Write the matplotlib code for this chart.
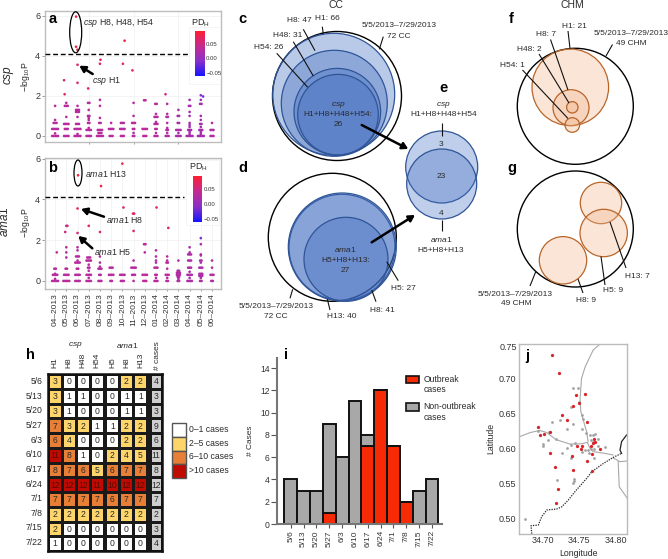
import numpy as np
import matplotlib
matplotlib.use("Agg")
import matplotlib.pyplot as plt
from matplotlib.patches import Circle, Ellipse, Rectangle
from matplotlib.colors import LinearSegmentedColormap, Normalize, ListedColormap, BoundaryNorm, to_rgba
from matplotlib.cm import ScalarMappable
from collections import Counter

plt.rcParams['font.family'] = ['Liberation Sans', 'DejaVu Sans']
plt.rcParams['mathtext.fontset'] = 'custom'
plt.rcParams['mathtext.rm'] = 'Liberation Sans'
plt.rcParams['mathtext.it'] = 'Liberation Sans:italic'
plt.rcParams['mathtext.bf'] = 'Liberation Sans:bold'

# ---------- data ----------
months = ['04–2013','05–2013','06–2013','07–2013','08–2013','09–2013','10–2013','11–2013',
          '12–2013','01–2014','02–2014','03–2014','04–2014','05–2014','06–2014']
csp_month_vals = [
 [0]*5+[.13]+[.35]*5+[.65]*3+[.8,1.5],
 [0]*4+[.35]*3+[.6]*4+[.95]+[1.5]*3+[1.65],
 [0]*5+[.1]+[.35]*5+[.6]*3+[.95]+[1.2]*3+[1.3]*3+[1.5],
 [0]*4+[.3]*4+[.4]+[.65]*2+[.8,.9]+[1.0]*2+[1.3]+[1.65]*2,
 [0]*5+[.15]*3+[.3]*4+[.65]*2+[.9,1.5,1.8],
 [0]*3+[.35]*4+[.65],
 [0]*3+[.35]*4+[.65]*3,
 [0]*2+[.15]+[.35]*2+[.65]*3+[1.0,1.65],
 [0]*3+[.35]*4+[1.78]*2,
 [0]*3+[.15]+[.35]*2+[.6]*3+[.7]+[.95]*3+[1.1]+[1.6]*2,
 [0]*3+[.15]+[.3]*2+[.4,.65]+[.95]*2+[1.1,1.6],
 [0]*4+[.15]+[.3]*4+[.65]*2+[1.0]*2+[1.3],
 [0]*5+[.1,.2]+[.3]*3+[.45,.55,.65,1.0,1.2]+[1.5]*2+[1.8],
 [0]*5+[.1,.2]+[.3]*3+[.45]+[.6]*2+[.8,1.0]+[1.6]*2+[1.8],
 [0]*3+[.3]*3+[.65],
]
csp_month_pd = [.03,.03,.03,.03,.03,.03,.03,.03,.035,.03,.025,.02,.015,.015,.025]
csp_high_m  = [1.87,1.87,2.0,2.0,2.0,0.8,0.85,2.95,4.0,4.05,6.2,6.05,6.9,9.85,13.0,13.2]
csp_high_y  = [5.95,4.45,4.3,3.55,2.65,2.78,2.08,2.37,3.6,3.8,4.75,3.6,3.27,2.08,2.03,1.97]
csp_high_pd = [.08,.075,.08,.07,.06,.06,.06,.07,.07,.07,.08,.07,.065,.05,-.01,-.02]

ama_month_vals = [
 [0]*5+[.1]+[.3]*4+[.35]+[.6]*2,
 [0]*5+[.3]*4+[.6]*2+[1.15,1.4,1.65],
 [0]*4+[.3]*4+[.6]*2+[.9]*4+[1.0]+[1.2]*3+[1.5,1.65],
 [0]*4+[.15]+[.3]*4+[.5]+[.65]*2+[.8]+[1.0]*4+[1.15]*3,
 [0]*3+[.3]*2+[.6]*3+[.7,.9,1.2],
 [0]*2+[.3]*4+[.65]*3,
 [0]*3+[.3]*4,
 [0]+[.3]*3+[.65]*4+[1.0],
 [0]*3+[.3]*4+[1.4]+[1.8]*2,
 [0]*3+[.15]+[.3]*2+[.65]*3+[.9,1.0,1.2,1.5],
 [0]*2+[.15]+[.3]*3+[.6]+[.9]*2+[1.0,1.2],
 [0]*2+[.1]+[.2]*2+[.3]*3+[.4]*3+[.5]*2+[1.0],
 [0]*4+[.15]+[.3]*4+[.45]+[.65]*3+[1.0]*3+[1.3]*3+[1.4,1.65],
 [0]*2+[.15]+[.25]*3+[.35]*3+[.65]*3+[.9]+[1.0]*2+[1.25,1.3,1.8],
 [0]*2+[.3]*3+[.65,1.0],
]
ama_month_pd = [.03,.03,.03,.03,.03,.03,.03,.03,.035,.03,.03,.025,.02,.02,.025]
ama_high_m  = [0.15,0.9,1.0,1.1,2.0,2.0,3.0,4.0,4.1,6.0,6.1,6.95,7.05,7.0,2.05,9.05,10.1,13.0]
ama_high_y  = [1.4,2.4,2.7,2.7,2.35,3.55,2.7,2.4,4.65,5.75,3.6,3.3,3.3,2.45,5.18,3.6,2.6,2.1]
ama_high_pd = [.04,.05,.05,.05,.06,.075,.06,.06,.08,.08,.07,.07,.07,.06,.085,.07,.06,-.015]

h_rows = ['5/6','5/13','5/20','5/27','6/3','6/10','6/17','6/24','7/1','7/8','7/15','7/22']
h_csp_cols = ['H1','H8','H48','H54']
h_ama_cols = ['H5','H8','H13']
h_csp = [[3,0,0,0],[3,1,1,0],[3,1,0,0],[7,3,2,1],[6,4,0,0],[11,8,1,0],
         [8,7,6,5],[12,12,12,11],[7,7,7,7],[2,2,2,2],[2,0,0,0],[1,0,0,0]]
h_ama = [[0,2,2],[0,1,1],[0,1,1],[1,2,2],[0,2,2],[2,4,5],
         [6,7,7],[10,12,12],[6,7,7],[2,2,2],[0,0,0],[0,0,0]]
h_cases = [4,3,3,9,6,11,8,12,7,2,3,4]
h_bins = [0,2,6,10,100]
h_colors = ['#FFFFFF','#FDD56A','#E87F36','#BE0A00']
h_legend = ['0–1 cases','2–5 cases','6–10 cases','>10 cases']

i_weeks = h_rows
i_outbreak = [0,0,0,1,0,0,7,12,7,2,0,0]
i_non = [4,3,3,8,6,11,1,0,0,0,3,4]

j_red_lon = [34.713,34.722,34.758,34.746,34.750,34.741,34.726,34.733,34.693,34.760,34.7095,34.702,34.696,
             34.7105,34.747,34.754,34.752,34.7395,34.7655,34.770,34.771,34.769,34.778,34.767,34.760,34.717,
             34.741,34.767,34.721,34.7186]
j_red_lat = [.7337,.708,.6785,.6766,.6647,.6614,.6476,.6414,.6309,.6385,.6242,.6214,.619,.5933,.6042,.6033,
             .599,.59,.6042,.6133,.6095,.6076,.600,.5919,.5823,.5733,.5695,.5685,.5428,.5228]
j_grey_lon = [34.742,34.748,34.738,34.750,34.753,34.7545,34.723,34.712,34.741,34.7336,34.753,34.693,34.7586,
              34.765,34.768,34.772,34.7005,34.7005,34.707,34.718,34.744,34.738,34.733,34.726,34.738,34.7755,
              34.766,34.768,34.775,34.7855,34.7705,34.762,34.753,34.763,34.7705,34.719,34.743,34.743,34.742,
              34.6755,34.7086,34.758,34.766]
j_grey_lat = [.686,.686,.6595,.667,.6485,.643,.6414,.6376,.6347,.6285,.6285,.6247,.6219,.620,.620,.6204,.6066,
              .6033,.6128,.6133,.6076,.6057,.6004,.5933,.5871,.6138,.6123,.610,.6038,.6023,.5995,.598,.5952,
              .5938,.587,.5557,.5562,.5538,.5505,.500,.6233,.598,.5995]
road_ew_lon = [34.668,34.683,34.696,34.7055,34.718,34.737,34.753,34.761,34.7645,34.769,34.785,34.796]
road_ew_lat = [.617,.623,.626,.623,.613,.6066,.607,.609,.6004,.5957,.5933,.591]
road_n_lon = [34.778,34.769,34.758,34.753,34.751,34.752,34.760,34.762]
road_n_lat = [.749,.741,.717,.7004,.672,.653,.624,.610]
road_e_lon = [34.796,34.8055,34.8155]
road_e_lat = [.587,.5814,.5824]
road_s_lon = [34.803,34.8045,34.8155]
road_s_lat = [.5814,.5457,.529]
border_lon = [34.685,34.684,34.694,34.6986,34.7055,34.719,34.726,34.735,34.744,34.760,34.767,34.783,34.7964,
              34.8077,34.8055,34.8077,34.8145]
border_lat = [.4786,.490,.491,.5029,.5124,.5138,.517,.5267,.5386,.5576,.567,.579,.5876,.5933,.598,.610,.6195]

# ---------- helpers ----------
W, H = 668, 559
fig = plt.figure(figsize=(W/100, H/100), dpi=100)
def pxax(l, t, r, b, **kw):
    return fig.add_axes([l/W, 1-b/H, (r-l)/W, (b-t)/H], **kw)

ov = fig.add_axes([0, 0, 1, 1], zorder=10)
ov.set_xlim(0, W); ov.set_ylim(H, 0); ov.axis('off'); ov.patch.set_alpha(0)
DK = '#2a2a2a'
LET = 10.5
VS = 6.0
def T(x, y, s, size=6, ha='center', va='center', color=DK, **kw):
    ov.text(x, y, s, fontsize=size, ha=ha, va=va, color=color, **kw)
def L(x0, y0, x1, y1, lw=0.8, color='#111111'):
    ov.plot([x0, x1], [y0, y1], color=color, lw=lw, solid_capstyle='butt', zorder=6)
def A(x0, y0, x1, y1):
    ov.annotate('', xy=(x1, y1), xytext=(x0, y0),
                arrowprops=dict(arrowstyle='-|>,head_width=0.2,head_length=0.35', lw=1.8, color='black',
                                shrinkA=0, shrinkB=0), zorder=7)
def C(x, y, r, fc='none', ec='black', lw=0.9, alpha=None):
    face = 'none' if fc == 'none' else to_rgba(fc, alpha)
    ov.add_patch(Circle((x, y), r, facecolor=face, edgecolor=ec, lw=lw, zorder=3))

cmap = LinearSegmentedColormap.from_list('pd', ['#1515FF', '#8A30C8', '#C52A90', '#FF1E30'])
norm = Normalize(-0.06, 0.093)

def manhattan(ax, vals, mpd, hm, hy, hpd):
    xs, ys, cs = [], [], []
    for m, v in enumerate(vals):
        for y, n in Counter(v).items():
            for k in range(n):
                xs.append(m + (k-(n-1)/2)*0.13); ys.append(y); cs.append(mpd[m])
    xs += hm; ys += hy; cs += hpd
    ax.scatter(xs, ys, c=cs, cmap=cmap, norm=norm, s=3.6, lw=0, zorder=3)
    ax.set_xlim(-0.9, 14.8)
    ax.set_yticks([0, 2, 4, 6])
    ax.grid(color='#F0F0F0', lw=0.5)
    ax.set_axisbelow(True)
    for s in ax.spines.values():
        s.set_color('#BDBDBD'); s.set_linewidth(1)
    ax.tick_params(axis='y', labelsize=6.5, length=2, width=0.5, color='#777777', labelcolor='#333333', pad=1.5)

# ---------- a ----------
axa = pxax(45, 11, 221, 142)
manhattan(axa, csp_month_vals, csp_month_pd, csp_high_m, csp_high_y, csp_high_pd)
axa.set_ylim(-0.3, 6.23)
axa.set_xticks([3, 7, 11]); axa.set_xticklabels([])
axa.tick_params(axis='x', length=1.5, width=0.5, color='#777777')
# ---------- b ----------
axb = pxax(45, 157.5, 221, 288.5)
manhattan(axb, ama_month_vals, ama_month_pd, ama_high_m, ama_high_y, ama_high_pd)
axb.set_ylim(-0.37, 6.05)
axb.set_xticks(range(15)); axb.set_xticklabels(months, rotation=90, fontsize=6, color='#333333')
axb.tick_params(axis='x', length=1.5, width=0.5, color='#777777', pad=2)

ov.plot([45, 190], [54.3, 54.3], color='black', lw=1, ls=(0, (3.5, 2)), zorder=2)
ov.plot([45, 184], [197.3, 197.3], color='black', lw=1, ls=(0, (3.5, 2)), zorder=2)
ov.add_patch(Ellipse((75.7, 32.3), 12, 41, fc='none', ec='black', lw=0.9))
ov.add_patch(Ellipse((78, 173), 8, 26, fc='none', ec='black', lw=0.9))
T(53, 19, 'a', LET, fontweight='bold', color='black')
T(53, 167.7, 'b', LET, fontweight='bold', color='black')
T(83.3, 23, r'$\mathit{csp}$ H8, H48, H54', 6.3, ha='left')
T(91.7, 81, r'$\mathit{csp}$ H1', 6.3, ha='left')
T(85, 174, r'$\mathit{ama1}$ H13', 6.3, ha='left')
T(106, 220, r'$\mathit{ama1}$ H8', 6.3, ha='left')
T(94.3, 251.7, r'$\mathit{ama1}$ H5', 6.3, ha='left')
A(92.7, 74, 79.3, 65.7); A(104, 216.7, 81, 209); A(92.3, 248.3, 78.3, 236)
T(9.3, 75, r'$\mathit{csp}$', 8.5, rotation=90)
T(5, 221.7, r'$\mathit{ama1}$', 8.5, rotation=90)
T(25, 77, r'$-\mathrm{log}_{10}\mathrm{P}$', 6.2, rotation=90)
T(25, 223, r'$-\mathrm{log}_{10}\mathrm{P}$', 6.2, rotation=90)

for (rx, ry, rw, rh), (cl, ct, cr, cb), ty in [((189, 27, 31, 57), (195, 31, 204.5, 76), 23.5),
                                              ((186, 160, 33, 65), (193, 176, 202, 222), 167.5)]:
    ov.add_patch(Rectangle((rx, ry), rw, rh, fc='white', ec='#F2F2F2', lw=0.5, zorder=1))
    cax = pxax(cl, ct, cr, cb, zorder=11)
    cb_ = fig.colorbar(ScalarMappable(norm=norm, cmap=cmap), cax=cax)
    cb_.set_ticks([-0.05, 0, 0.05]); cb_.set_ticklabels(['−0.05', '0.00', '0.05'])
    cb_.ax.tick_params(labelsize=4.3, length=0, pad=1.2, labelcolor='#333333')
    cb_.outline.set_visible(False)
    T((cl+cr)/2+1, ty, r'PD$_{\mathrm{H}}$', 6.5)

# ---------- c ----------
BLUE, BE = '#3F6BC0', '#2F5597'
T(335.7, 4.5, 'CC', 7.5)
C(337, 96, 64.5, lw=1)
for x, y, r in [(333.7, 94.3, 61), (334.3, 103.3, 53), (337.3, 111.7, 43.3), (338, 114.7, 40.3)]:
    C(x, y, r, BLUE, BE, 0.9, 0.36)
for x, y, s in [(327.7, 19, 'H1: 66'), (299, 20.7, 'H8: 47'), (287.7, 35.7, 'H48: 31'), (269, 47.7, 'H54: 26'),
                (399.3, 25.7, '5/5/2013–7/29/2013'), (399.3, 36, '72 CC'),
                (338.3, 114.7, 'H1+H8+H48+H54:'), (338.3, 124.3, '26')]:
    T(x, y, s, VS)
T(338.3, 105, r'$\mathit{csp}$', VS)
for seg in [(322.3, 26.7, 323.3, 34.3), (303.3, 29.3, 315, 50.7), (293.3, 41.7, 313.3, 76),
            (276.7, 53.3, 307.7, 87.3), (383.3, 36.7, 379.3, 49.3)]:
    L(*seg)
T(242.7, 19, 'c', LET, fontweight='bold', color='black')
# ---------- d ----------
C(332.3, 237.3, 64, lw=1)
for x, y, r in [(342, 247.3, 53), (342.3, 247, 54), (346, 259.3, 42)]:
    C(x, y, r, BLUE, BE, 0.9, 0.38)
T(242.7, 167.7, 'd', LET, fontweight='bold', color='black')
T(345.7, 250, r'$\mathit{ama1}$', VS)
for x, y, s in [(345.7, 260, 'H5+H8+H13:'), (345.7, 270.7, '27'), (276, 306.7, '5/5/2013–7/29/2013'),
                (276, 316.7, '72 CC'), (342, 316.7, 'H13: 40'), (382.7, 310.7, 'H8: 41'), (403.3, 289, 'H5: 27')]:
    T(x, y, s, VS)
for seg in [(290, 298.3, 292.7, 289.3), (330, 310, 327.3, 299), (376, 301.7, 371.7, 290), (398.3, 280.7, 386.7, 261.7)]:
    L(*seg)
# ---------- e ----------
C(441.7, 167, 36, BLUE, BE, 0.9, 0.33)
C(441.7, 184, 35, BLUE, BE, 0.9, 0.33)
T(443.3, 88.3, 'e', LET, fontweight='bold', color='black')
T(443.3, 105.3, r'$\mathit{csp}$', VS)
T(443.3, 114.7, 'H1+H8+H48+H54', VS)
T(441, 144.3, '3', VS); T(441, 176.7, '23', VS); T(441, 213.3, '4', VS)
T(441.7, 240, r'$\mathit{ama1}$', VS); T(440.7, 250, 'H5+H8+H13', VS)
L(442.3, 123.3, 442.3, 136); L(441.7, 220, 441.7, 230.7)
A(361.7, 125, 408.3, 149); A(371.7, 242.3, 415, 215)
# ---------- f ----------
OR, OE = '#F2B78E', '#B9652A'
T(572, 4.5, 'CHM', 7.5)
C(575.3, 106.3, 58, lw=1)
for x, y, r in [(570.3, 87.3, 38.3), (571, 107.7, 18), (572.3, 107.3, 5.7), (572.3, 125, 7.3)]:
    C(x, y, r, OR, OE, 0.9, 0.35)
T(511, 19, 'f', LET, fontweight='bold', color='black')
for x, y, s in [(574.7, 27, 'H1: 21'), (546, 34.5, 'H8: 7'), (529, 49.5, 'H48: 2'), (512, 65.5, 'H54: 1'),
                (631, 33.5, '5/5/2013–7/29/2013'), (631, 43.5, '49 CHM')]:
    T(x, y, s, VS)
for seg in [(568, 31, 570, 48.5), (550.5, 39.5, 568, 90), (539, 54, 569, 103), (522.5, 70, 568, 118.5), (612.5, 44.5, 606, 56)]:
    L(*seg)
# ---------- g ----------
T(512, 168, 'g', LET, fontweight='bold', color='black')
C(575.3, 229, 58, lw=1)
for x, y, r in [(601, 203, 20.7), (603.7, 233, 23.7), (563, 260.3, 23.7)]:
    C(x, y, r, OR, OE, 0.9, 0.35)
for x, y, s in [(515.5, 294, '5/5/2013–7/29/2013'), (516, 303.5, '49 CHM'), (586.5, 301, 'H8: 9'),
                (613, 290.5, 'H5: 9'), (637, 276, 'H13: 7')]:
    T(x, y, s, VS)
for seg in [(530, 286, 536, 271), (583, 293, 578, 279), (605, 285, 601, 256.5), (626, 268, 610, 222)]:
    L(*seg)

# ---------- h ----------
axh = pxax(47.7, 374.3, 162, 551)
xe1 = np.arange(0, 5); xe2 = np.array([4.1, 5.1, 6.1, 7.1]); xe3 = [7.25, 8.14]
ye = np.arange(0, 13)
hn = BoundaryNorm(h_bins, 4); hc = ListedColormap(h_colors)
axh.pcolormesh(xe1, ye, np.array(h_csp), cmap=hc, norm=hn, edgecolors='#1a1a1a', lw=1)
axh.pcolormesh(xe2, ye, np.array(h_ama), cmap=hc, norm=hn, edgecolors='#1a1a1a', lw=1)
axh.pcolormesh(xe3, ye, np.array(h_cases).reshape(-1, 1), cmap=ListedColormap(['#CFCFCF']), edgecolors='#1a1a1a', lw=1)
axh.set_xlim(0, 8.14); axh.set_ylim(12, 0)
axh.set_xticks([]); axh.set_yticks([])
for s in axh.spines.values():
    s.set_linewidth(1.8); s.set_color('#111111')
for r in range(12):
    for c in range(4):
        axh.text(c+.5, r+.52, str(h_csp[r][c]), ha='center', va='center', fontsize=6.2,
                 color='#5a0a00' if h_csp[r][c] >= 10 else DK)
    for c in range(3):
        axh.text(xe2[c]+.5, r+.52, str(h_ama[r][c]), ha='center', va='center', fontsize=6.2,
                 color='#5a0a00' if h_ama[r][c] >= 10 else DK)
    axh.text(7.7, r+.52, str(h_cases[r]), ha='center', va='center', fontsize=6.2, color=DK)
    T(42.7, 381.7+r*14.63, h_rows[r], 6.2, ha='right')
for i, s in enumerate(h_csp_cols):
    T(54.7+i*14.05, 368.5, s, 6, rotation=90, va='bottom')
for i, s in enumerate(h_ama_cols):
    T(112.5+i*14.05, 368.5, s, 6, rotation=90, va='bottom')
T(157.7, 369.5, '# cases', 6, rotation=90, va='bottom')
T(75.7, 345, r'$\mathit{csp}$', VS); T(127.7, 345, r'$\mathit{ama1}$', VS)
T(30, 355, 'h', LET, fontweight='bold', color='black')
for i, (c, s) in enumerate(zip(h_colors, h_legend)):
    ov.add_patch(Rectangle((172, 423.3+i*13.7), 14, 13.7, fc=c, ec='#555555', lw=1))
    T(189, 430+i*13.4, s, 6.2, ha='left')

# ---------- i ----------
axi = pxax(277.3, 358, 441.7, 524)
xi = np.arange(12)
axi.bar(xi, i_outbreak, width=1, color='#F62B06', edgecolor='#111111', lw=1.4)
axi.bar(xi, i_non, width=1, bottom=i_outbreak, color='#A8A8A8', edgecolor='#111111', lw=1.4)
axi.set_xlim(-1.04, 11.75); axi.set_ylim(0, 14.9)
axi.set_yticks(range(0, 15, 2))
axi.set_xticks(xi); axi.set_xticklabels(i_weeks, rotation=90, fontsize=6, color='#333333')
axi.tick_params(axis='y', labelsize=6.2, length=4, width=0.8, color='#555555', labelcolor='#333333', pad=1.5)
axi.tick_params(axis='x', length=3, width=0.8, color='#555555', pad=1.5)
for s in ['top', 'right']:
    axi.spines[s].set_visible(False)
for s in ['left', 'bottom']:
    axi.spines[s].set_color('#777777'); axi.spines[s].set_linewidth(1.5)
T(251, 441, '# Cases', 6, rotation=90)
T(285.7, 355, 'i', LET, fontweight='bold', color='black')
ov.add_patch(Rectangle((406, 375.7), 13.3, 7.6, fc='#F62B06', ec='#111111', lw=1.2))
ov.add_patch(Rectangle((406, 403.3), 13.3, 7.6, fc='#A8A8A8', ec='#111111', lw=1.2))
T(423.3, 379.3, 'Outbreak', 6.2, ha='left'); T(423.3, 389.3, 'cases', 6.2, ha='left')
T(423.3, 406.7, 'Non-outbreak', 6.2, ha='left'); T(423.3, 417.3, 'cases', 6.2, ha='left')

# ---------- j ----------
axj = pxax(519.3, 344.3, 627.3, 533.7)
for lo, la in [(road_ew_lon, road_ew_lat), (road_n_lon, road_n_lat), (road_e_lon, road_e_lat), (road_s_lon, road_s_lat)]:
    axj.plot(lo, la, color='#A8A8A8', lw=0.8, zorder=1)
axj.plot(border_lon[:14], border_lat[:14], color='#222222', lw=0.9, ls=(0, (1, 1)), zorder=1)
axj.plot(border_lon[13:], border_lat[13:], color='#222222', lw=0.9, zorder=1)
axj.scatter(j_grey_lon, j_grey_lat, s=4, color='#A3A3A3', lw=0, zorder=2)
axj.scatter(j_red_lon, j_red_lat, s=5.5, color='#D7262B', lw=0, zorder=3)
axj.set_xlim(34.668, 34.8155); axj.set_ylim(.4786, .749)
axj.set_xticks([34.70, 34.75, 34.80]); axj.set_xticklabels(['34.70', '34.75', '34.80'])
axj.set_yticks([.50, .55, .60, .65, .70]); axj.set_yticklabels(['0.50', '0.55', '0.60', '0.65', '0.70'])
axj.tick_params(length=0, labelsize=6.5, labelcolor='#333333', pad=2)
for s in axj.spines.values():
    s.set_color('#BBBBBB'); s.set_linewidth(1)
T(517, 347, '0.75', 6.5, ha='right', color='#333333')
T(579, 554, 'Longitude', 6.3); T(491, 438, 'Latitude', 6.3, rotation=90)
T(527, 355.7, 'j', LET, fontweight='bold', color='black')

fig.savefig('out.png', dpi=100)
